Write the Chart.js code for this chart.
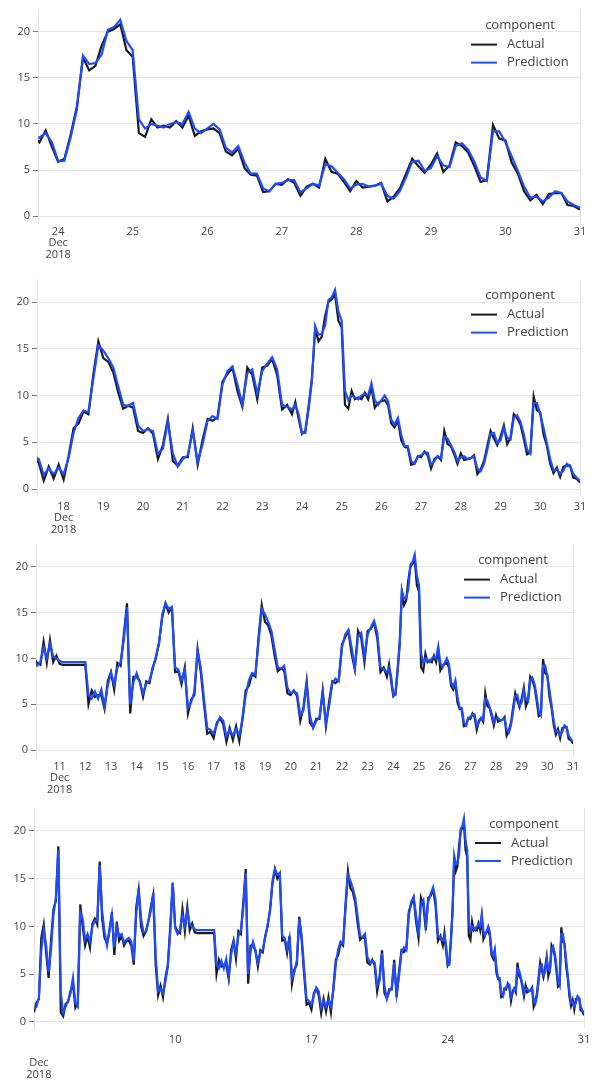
<!DOCTYPE html>
<html>
<head>
<meta charset="utf-8">
<script src="https://cdn.jsdelivr.net/npm/chart.js@4.4.1/dist/chart.umd.min.js"></script>
<style>
  body { margin: 0; background: #fff; width: 597px; height: 1081px; position: relative; overflow: hidden; }
  canvas { position: absolute; left: 0; }
</style>
</head>
<body>
<canvas id="c1" width="597" height="268" style="top:0px"></canvas>
<canvas id="c2" width="597" height="265" style="top:270px"></canvas>
<canvas id="c3" width="597" height="262" style="top:535px"></canvas>
<canvas id="c4" width="597" height="284" style="top:797px"></canvas>
<script>
// time is "day of December 2018"; each block has its own start and step
const segStart = [2.75, 10.0, 17.25, 23.75];
const segStep = [0.125, 0.125, 0.125, 1 / 12];

const actualA = [1.0, 2.0, 2.4, 8.8, 10.2, 7.2, 4.6, 8.5, 11.8, 12.7,
  18.4, 1.0, 0.6, 1.9, 2.1, 3.2, 4.0, 1.5, 2.0, 12.3,
  10.0, 8.0, 9.0, 7.8, 10.3, 10.8, 10.2, 16.8, 10.8, 8.8,
  8.2, 9.5, 11.5, 7.0, 10.5, 8.5, 9.0, 8.0, 8.5, 8.5,
  8.0, 6.0, 12.0, 13.8, 10.0, 9.0, 9.5, 10.5, 12.0, 13.3,
  6.0, 2.8, 3.8, 2.6, 4.6, 6.0, 10.0, 14.5];
const predA = [1.4, 1.6, 2.5, 7.5, 9.6, 8.0, 5.2, 7.6, 11.2, 13.0,
  18.0, 3.0, 1.0, 1.6, 2.2, 3.0, 4.6, 2.0, 1.6, 11.5,
  10.8, 8.6, 9.2, 8.4, 10.0, 10.6, 10.6, 16.4, 11.6, 9.4,
  8.0, 9.6, 11.2, 7.8, 10.0, 9.0, 9.2, 8.3, 8.6, 8.8,
  8.4, 6.4, 11.2, 14.0, 10.8, 9.4, 9.4, 10.6, 11.6, 13.5,
  7.0, 3.2, 3.5, 3.0, 4.2, 5.8, 9.4, 14.6];

const actualB = [10.0, 9.5, 9.3, 11.8, 9.5, 12.0, 9.6, 10.3, 9.4, 9.3,
  9.3, 9.3, 9.3, 9.3, 9.3, 9.3, 9.3, 5.0, 6.5, 5.8,
  6.0, 6.0, 4.5, 7.5, 8.5, 6.6, 9.5, 9.2, 12.5, 16.0,
  4.0, 8.0, 8.0, 7.5, 5.8, 7.5, 7.3, 9.0, 10.0, 11.8,
  14.5, 16.0, 15.0, 15.5, 8.5, 8.6, 7.2, 9.0, 4.0, 5.5,
  6.0, 11.0, 8.5, 5.0, 1.8, 2.0, 1.3, 3.0];
const predB = [9.8, 9.2, 9.6, 11.2, 10.0, 11.6, 10.2, 10.0, 9.7, 9.6,
  9.6, 9.6, 9.6, 9.6, 9.6, 9.6, 9.6, 6.0, 5.6, 6.4,
  5.6, 6.6, 4.8, 7.0, 8.4, 7.2, 9.0, 9.6, 12.0, 15.6,
  5.0, 7.4, 8.4, 7.4, 6.2, 7.2, 7.6, 8.8, 10.2, 11.6,
  14.8, 16.0, 15.4, 15.6, 9.0, 8.8, 7.6, 8.8, 4.6, 5.2,
  6.4, 10.8, 9.0, 5.6, 2.4, 2.2, 1.8, 2.8];

const actualC = [3.5, 2.8, 0.9, 2.4, 1.1, 2.6, 1.0, 3.5, 6.5, 7.0,
  8.3, 8.0, 12.3, 15.8, 14.0, 13.6, 12.5, 10.3, 8.6, 8.9,
  8.7, 6.2, 6.0, 6.5, 5.9, 3.2, 4.7, 7.5, 3.0, 2.5,
  3.4, 3.4, 6.5, 2.6, 5.3, 7.5, 7.3, 7.7, 11.5, 12.3,
  13.0, 10.5, 8.8, 13.0, 12.2, 9.6, 13.0, 13.2, 13.9, 12.2,
  8.5, 9.0];
const predC = [3.6, 3.2, 1.5, 2.2, 1.6, 2.3, 1.6, 3.3, 6.0, 7.6,
  8.4, 8.2, 11.8, 15.4, 14.8, 14.0, 13.0, 11.0, 9.0, 8.9,
  9.2, 6.8, 6.2, 6.4, 6.2, 3.8, 4.3, 7.2, 3.8, 2.4,
  3.2, 3.6, 6.2, 2.9, 4.8, 7.3, 7.8, 7.5, 11.2, 12.6,
  13.1, 11.2, 9.0, 12.4, 12.8, 10.2, 12.6, 13.4, 14.1, 12.8,
  9.0, 8.8];

const actualD = [8.0, 9.3, 7.5, 5.9, 6.2, 8.8, 11.8, 17.2, 15.8, 16.3,
  18.5, 20.0, 20.3, 20.8, 18.0, 17.3, 9.0, 8.6, 10.5, 9.6,
  9.8, 9.6, 10.3, 9.6, 10.9, 8.7, 9.2, 9.4, 9.5, 9.0,
  7.0, 6.6, 7.3, 5.2, 4.5, 4.4, 2.6, 2.7, 3.5, 3.4,
  4.0, 3.6, 2.2, 3.2, 3.5, 3.1, 6.2, 4.8, 4.6, 3.7,
  2.7, 3.8, 3.1, 3.2, 3.3, 3.6, 1.6, 2.1, 3.0, 4.6,
  6.2, 5.4, 4.7, 5.6, 6.8, 4.8, 5.5, 8.0, 7.6, 6.9,
  5.4, 3.7, 3.9, 9.9, 8.4, 8.2, 5.8, 4.6, 2.7, 1.7,
  2.3, 1.3, 2.4, 2.5, 2.5, 1.2, 1.1, 0.7];
const predD = [8.5, 9.0, 8.0, 6.0, 6.0, 8.5, 11.5, 17.4, 16.5, 16.6,
  17.5, 20.2, 20.5, 21.3, 19.0, 18.0, 10.5, 9.5, 10.0, 9.8,
  9.6, 10.0, 10.2, 10.0, 11.3, 9.5, 9.0, 9.5, 10.0, 9.4,
  7.4, 6.9, 7.6, 5.8, 4.6, 4.6, 3.0, 2.7, 3.5, 3.6,
  3.9, 3.9, 2.6, 3.0, 3.5, 3.3, 5.6, 5.4, 4.7, 4.0,
  3.0, 3.4, 3.5, 3.2, 3.3, 3.5, 2.2, 1.9, 2.7, 4.2,
  5.9, 6.0, 4.9, 5.2, 6.5, 5.5, 5.3, 7.6, 7.9, 7.2,
  5.9, 4.2, 3.8, 9.2, 9.2, 8.0, 6.5, 4.9, 3.2, 2.0,
  2.1, 1.6, 2.0, 2.7, 2.5, 1.6, 1.2, 0.9];

const yTicks = [0, 5, 10, 15, 20];
const seriesNames = ['Actual', 'Prediction'];
const seriesColors = ['#1c1c1c', '#1f4cff'];

function toPoints(blocks) {
  const pts = [];
  blocks.forEach((arr, s) => {
    arr.forEach((v, i) => pts.push({ x: segStart[s] + i * segStep[s], y: v }));
  });
  return pts;
}
const actualPts = toPoints([actualA, actualB, actualC, actualD]);
const predPts = toPoints([predA, predB, predC, predD]);

const panels = [
  { id: 'c1', xMin: 23.73, xMax: 31, xTicks: [24, 25, 26, 27, 28, 29, 30, 31], first: ['24', 'Dec', '2018'],
    h: 268, top: 5, bottom: 222, left: 38, right: 580, pad: 4 },
  { id: 'c2', xMin: 17.33, xMax: 31, xTicks: [18, 19, 20, 21, 22, 23, 24, 25, 26, 27, 28, 29, 30, 31], first: ['18', 'Dec', '2018'],
    h: 265, top: 7, bottom: 225, left: 37, right: 580, pad: 6 },
  { id: 'c3', xMin: 10.08, xMax: 31, xTicks: [11, 12, 13, 14, 15, 16, 17, 18, 19, 20, 21, 22, 23, 24, 25, 26, 27, 28, 29, 30, 31], first: ['11', 'Dec', '2018'],
    h: 262, top: 7, bottom: 221, left: 36, right: 573, pad: 5 },
  { id: 'c4', xMin: 2.75, xMax: 31, xTicks: [3, 10, 17, 24, 31], first: ['', '', 'Dec', '2018'],
    h: 284, top: 11, bottom: 231, left: 34, right: 584, pad: 6 }
];

Chart.defaults.font.family = '"Open Sans", "DejaVu Sans", sans-serif';
Chart.defaults.color = '#444';

const frame = {
  id: 'frame',
  beforeDatasetsDraw(chart) {
    const { ctx, chartArea: a } = chart;
    ctx.save();
    ctx.strokeStyle = '#e3e3e3';
    ctx.lineWidth = 1;
    ctx.beginPath();
    ctx.moveTo(Math.round(a.right) + 0.5, a.top);
    ctx.lineTo(Math.round(a.right) + 0.5, a.bottom);
    ctx.stroke();
    ctx.restore();
  }
};

const compLegend = {
  id: 'compLegend',
  afterDraw(chart) {
    const { ctx, chartArea: a } = chart;
    ctx.save();
    ctx.font = '13px "Open Sans", "DejaVu Sans", sans-serif';
    ctx.fillStyle = '#444';
    ctx.textBaseline = 'middle';
    ctx.textAlign = 'center';
    ctx.fillText('component', a.right - 60, a.top + 16);
    ctx.textAlign = 'left';
    seriesNames.forEach((name, i) => {
      const y = a.top + 35 + i * 18;
      ctx.strokeStyle = seriesColors[i];
      ctx.lineWidth = 2;
      ctx.beginPath();
      ctx.moveTo(a.right - 109, y);
      ctx.lineTo(a.right - 83, y);
      ctx.stroke();
      ctx.fillText(name, a.right - 73, y);
    });
    ctx.restore();
  }
};

panels.forEach(p => {
  new Chart(document.getElementById(p.id), {
    type: 'line',
    data: {
      datasets: [
        { label: seriesNames[1], data: predPts, borderColor: seriesColors[1], borderWidth: 2.2, pointRadius: 0, tension: 0, order: 1 },
        { label: seriesNames[0], data: actualPts, borderColor: seriesColors[0], borderWidth: 2.2, pointRadius: 0, tension: 0, order: 2 }
      ]
    },
    options: {
      responsive: false,
      animation: false,
      events: [],
      layout: { padding: { top: p.top, right: 597 - p.right, left: 0, bottom: 0 } },
      plugins: { legend: { display: false }, tooltip: { enabled: false } },
      scales: {
        x: {
          type: 'linear',
          min: p.xMin,
          max: p.xMax,
          grid: { display: false, drawTicks: false },
          border: { display: false },
          afterBuildTicks: s => { s.ticks = p.xTicks.map(v => ({ value: v })); },
          afterFit: s => { s.height = p.h - p.bottom; },
          ticks: {
            padding: p.pad,
            maxRotation: 0,
            autoSkip: false,
            font: { size: 11, lineHeight: 1.05 },
            callback: (v, i) => i === 0 ? p.first : String(v)
          }
        },
        y: {
          min: -0.64,
          max: 22.4,
          grid: { color: '#e6e6e6', tickLength: 5, tickColor: '#777' },
          border: { display: true, color: '#e3e3e3' },
          afterBuildTicks: s => { s.ticks = yTicks.map(v => ({ value: v })); },
          afterFit: s => { s.width = p.left; },
          ticks: { padding: 3, font: { size: 11 } }
        }
      }
    },
    plugins: [frame, compLegend]
  });
});
</script>
</body>
</html>
